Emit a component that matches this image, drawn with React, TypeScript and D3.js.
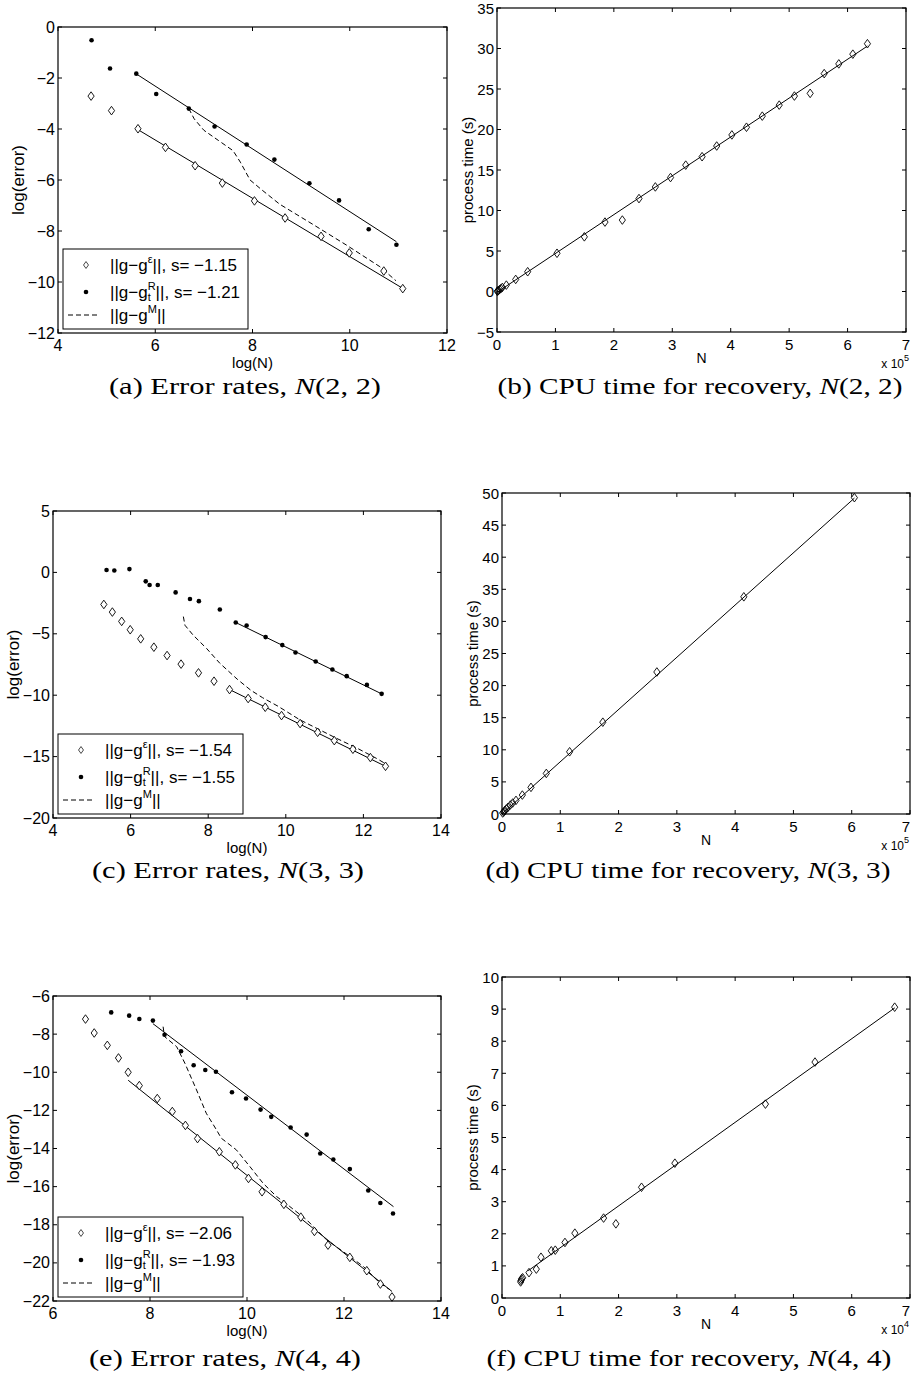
import * as d3 from "d3";

type Pt = [number, number];

// ---------- (a) error rates N(2,2) ----------
const aEps: Pt[] = [[4.68, -2.71], [5.10, -3.28], [5.645, -3.99], [6.21, -4.72], [6.82, -5.44], [7.38, -6.12], [8.04, -6.82], [8.67, -7.49], [9.41, -8.21], [9.99, -8.86], [10.70, -9.57], [11.09, -10.26]];
const aEpsFit: Pt[] = [[5.64, -4.02], [11.1, -10.26]];
const aRt: Pt[] = [[4.69, -0.52], [5.07, -1.63], [5.61, -1.83], [6.02, -2.63], [6.69, -3.20], [7.22, -3.90], [7.88, -4.61], [8.45, -5.20], [9.17, -6.13], [9.78, -6.80], [10.39, -7.93], [10.96, -8.54]];
const aRtFit: Pt[] = [[5.61, -1.84], [10.96, -8.42]];
const aM: Pt[] = [[6.69, -3.20], [6.80, -3.60], [7.00, -4.05], [7.30, -4.45], [7.60, -4.85], [7.75, -5.30], [7.95, -6.00], [8.20, -6.40], [8.56, -6.95], [9.25, -7.75], [9.93, -8.55], [10.62, -9.40], [10.95, -9.95]];
const aSlopes = ["\u22121.15", "\u22121.21"];

// ---------- (b) cpu time N(2,2), N in 1e5 ----------
const bPts: Pt[] = [[0.005, 0.02], [0.012, 0.06], [0.025, 0.12], [0.046, 0.25], [0.068, 0.37], [0.091, 0.50], [0.16, 0.79], [0.32, 1.49], [0.525, 2.44], [1.027, 4.72], [1.495, 6.75], [1.848, 8.57], [2.145, 8.82], [2.43, 11.47], [2.71, 12.91], [2.97, 14.07], [3.23, 15.60], [3.51, 16.64], [3.76, 17.96], [4.02, 19.33], [4.27, 20.28], [4.54, 21.65], [4.83, 23.01], [5.09, 24.13], [5.36, 24.46], [5.60, 26.9], [5.85, 28.1], [6.09, 29.3], [6.34, 30.59]];
const bFit: Pt[] = [[0, -0.1], [6.34, 30.3]];

// ---------- (c) error rates N(3,3) ----------
const cEps: Pt[] = [[5.31, -2.61], [5.53, -3.23], [5.77, -3.99], [5.99, -4.67], [6.26, -5.41], [6.60, -6.09], [6.94, -6.77], [7.30, -7.47], [7.75, -8.18], [8.15, -8.86], [8.55, -9.54], [9.03, -10.27], [9.47, -10.98], [9.89, -11.66], [10.37, -12.31], [10.82, -13.02], [11.25, -13.70], [11.73, -14.40], [12.18, -15.08], [12.57, -15.79]];
const cEpsFit: Pt[] = [[8.55, -9.54], [12.57, -15.79]];
const cRt: Pt[] = [[5.38, 0.19], [5.58, 0.16], [5.97, 0.27], [6.39, -0.73], [6.49, -1.03], [6.70, -1.03], [7.16, -1.63], [7.53, -2.17], [7.76, -2.34], [8.30, -3.02], [8.71, -4.08], [8.99, -4.32], [9.48, -5.27], [9.91, -5.92], [10.25, -6.52], [10.77, -7.26], [11.20, -7.91], [11.57, -8.45], [12.09, -9.16], [12.47, -9.89]];
const cRtFit: Pt[] = [[8.71, -4.08], [12.47, -9.89]];
const cM: Pt[] = [[7.36, -3.6], [7.40, -4.3], [7.61, -5.1], [7.96, -6.2], [8.30, -7.4], [8.75, -8.7], [9.10, -9.6], [9.40, -10.2], [9.80, -10.9], [10.36, -12.0], [10.8, -12.7], [11.3, -13.5], [11.83, -14.3], [12.34, -15.15], [12.56, -15.56]];
const cSlopes = ["\u22121.54", "\u22121.55"];

// ---------- (d) cpu time N(3,3), N in 1e5 ----------
const dPts: Pt[] = [[0.011, 0.16], [0.029, 0.31], [0.051, 0.57], [0.074, 0.78], [0.103, 1.04], [0.143, 1.40], [0.183, 1.71], [0.24, 2.12], [0.349, 2.95], [0.497, 4.15], [0.76, 6.32], [1.16, 9.69], [1.73, 14.30], [2.657, 22.12], [4.149, 33.83], [6.046, 49.27]];
const dFit: Pt[] = [[0, 0], [6.046, 49.2]];

// ---------- (e) error rates N(4,4) ----------
const eEps: Pt[] = [[6.67, -7.21], [6.85, -7.94], [7.12, -8.59], [7.35, -9.25], [7.55, -10.00], [7.78, -10.70], [8.15, -11.38], [8.46, -12.06], [8.73, -12.79], [8.98, -13.48], [9.43, -14.17], [9.76, -14.86], [10.03, -15.57], [10.31, -16.27], [10.76, -16.93], [11.11, -17.60], [11.39, -18.35], [11.67, -19.07], [12.12, -19.71], [12.47, -20.41], [12.75, -21.11], [12.99, -21.79]];
const eEpsFit: Pt[] = [[7.55, -10.42], [12.99, -21.5]];
const eRt: Pt[] = [[7.20, -6.86], [7.57, -7.03], [7.78, -7.21], [8.06, -7.29], [8.30, -8.03], [8.64, -8.90], [8.90, -9.63], [9.14, -9.88], [9.36, -9.97], [9.69, -11.05], [9.98, -11.38], [10.28, -11.96], [10.50, -12.34], [10.90, -12.90], [11.23, -13.27], [11.51, -14.26], [11.78, -14.58], [12.12, -15.08], [12.50, -16.20], [12.75, -16.86], [13.01, -17.41]];
const eRtFit: Pt[] = [[8.06, -7.45], [13.02, -17.05]];
const eM: Pt[] = [[8.27, -7.61], [8.30, -8.13], [8.55, -8.66], [8.72, -9.53], [8.96, -10.93], [9.16, -12.15], [9.37, -13.02], [9.47, -13.46], [9.78, -14.07], [10.06, -14.95], [10.33, -15.82], [10.61, -16.52], [10.88, -17.04], [11.23, -17.74], [11.64, -18.79], [12.12, -19.66], [12.40, -20.19], [12.74, -21.06], [12.95, -21.41]];
const eSlopes = ["\u22122.06", "\u22121.93"];

// ---------- (f) cpu time N(4,4), N in 1e4 ----------
const fPts: Pt[] = [[0.32, 0.50], [0.326, 0.55], [0.337, 0.60], [0.354, 0.63], [0.463, 0.79], [0.589, 0.90], [0.669, 1.27], [0.846, 1.47], [0.914, 1.49], [1.08, 1.73], [1.25, 2.02], [1.743, 2.49], [1.954, 2.31], [2.394, 3.45], [2.966, 4.20], [4.52, 6.04], [5.37, 7.35], [6.737, 9.06]];
const fFit: Pt[] = [[0.45, 0.85], [6.74, 9.04]];

// tick values
const aXTicks = [4, 6, 8, 10, 12];
const aYTicks = [-12, -10, -8, -6, -4, -2, 0];
const cXTicks = [4, 6, 8, 10, 12, 14];
const cYTicks = [-20, -15, -10, -5, 0, 5];
const eXTicks = [6, 8, 10, 12, 14];
const eYTicks = [-22, -20, -18, -16, -14, -12, -10, -8, -6];
const cpuXTicks = [0, 1, 2, 3, 4, 5, 6, 7];
const bYTicks = [-5, 0, 5, 10, 15, 20, 25, 30, 35];
const dYTicks = [0, 5, 10, 15, 20, 25, 30, 35, 40, 45, 50];
const fYTicks = [0, 1, 2, 3, 4, 5, 6, 7, 8, 9, 10];

const SANS = "Liberation Sans, Arial, Helvetica, sans-serif";
const SERIF = "Liberation Serif, Times New Roman, serif";
const W = 911;

type Box = { x: number; y: number; w: number; h: number };

const fmt = (v: number) => (v < 0 ? "\u2212" + Math.abs(v) : String(v));
const diamond = "M0,-4.3L3.1,0L0,4.3L-3.1,0Z";

function Frame(props: {
  box: Box;
  sx: d3.ScaleLinear<number, number>;
  sy: d3.ScaleLinear<number, number>;
  xTicks: number[];
  yTicks: number[];
  fs: number;
}) {
  const { box, sx, sy, xTicks, yTicks, fs } = props;
  const t = 4;
  return (
    <g>
      {xTicks.map((v) => {
        // keep a label that would run past the page edge inside it
        const atEdge = sx(v) + fs * 0.3 > W;
        return (
          <g key={"x" + v}>
            <line x1={sx(v)} x2={sx(v)} y1={box.y + box.h} y2={box.y + box.h - t} stroke="#000" />
            <line x1={sx(v)} x2={sx(v)} y1={box.y} y2={box.y + t} stroke="#000" />
            <text x={atEdge ? W - 1 : sx(v)} y={box.y + box.h + 12} fontSize={fs} textAnchor={atEdge ? "end" : "middle"} dominantBaseline="central" fontFamily={SANS}>
              {fmt(v)}
            </text>
          </g>
        );
      })}
      {yTicks.map((v) => (
        <g key={"y" + v}>
          <line x1={box.x} x2={box.x + t} y1={sy(v)} y2={sy(v)} stroke="#000" />
          <line x1={box.x + box.w} x2={box.x + box.w - t} y1={sy(v)} y2={sy(v)} stroke="#000" />
          <text x={box.x - 3} y={sy(v)} fontSize={fs} textAnchor="end" dominantBaseline="central" fontFamily={SANS}>
            {fmt(v)}
          </text>
        </g>
      ))}
      <rect x={box.x} y={box.y} width={box.w} height={box.h} fill="none" stroke="#000" strokeWidth={1.2} />
    </g>
  );
}

function ErrorPanel(props: {
  box: Box;
  xDomain: [number, number];
  yDomain: [number, number];
  xTicks: number[];
  yTicks: number[];
  eps: Pt[];
  epsFit: Pt[];
  rt: Pt[];
  rtFit: Pt[];
  m: Pt[];
  slopes: string[];
  label: string;
  dims: string;
  capX: number;
  capY: number;
}) {
  const { box } = props;
  const sx = d3.scaleLinear().domain(props.xDomain).range([box.x, box.x + box.w]);
  const sy = d3.scaleLinear().domain(props.yDomain).range([box.y + box.h, box.y]);
  const line = d3.line<Pt>().x((d) => sx(d[0])).y((d) => sy(d[1]));
  const lx = box.x + 5;
  const ly = box.y + box.h - 84;
  return (
    <g>
      <rect x={box.x} y={box.y} width={box.w} height={box.h} fill="#fff" />
      <path d={line(props.epsFit) ?? ""} fill="none" stroke="#000" strokeWidth={1} />
      <path d={line(props.rtFit) ?? ""} fill="none" stroke="#000" strokeWidth={1} />
      <path d={line(props.m) ?? ""} fill="none" stroke="#000" strokeWidth={1} strokeDasharray="5,3" />
      {props.eps.map((d, i) => (
        <path key={"e" + i} d={diamond} transform={`translate(${sx(d[0])},${sy(d[1])})`} fill="#fff" stroke="#000" strokeWidth={0.9} />
      ))}
      {props.rt.map((d, i) => (
        <circle key={"r" + i} cx={sx(d[0])} cy={sy(d[1])} r={2.3} fill="#000" />
      ))}
      <Frame box={box} sx={sx} sy={sy} xTicks={props.xTicks} yTicks={props.yTicks} fs={16} />
      <text x={box.x + box.w / 2} y={box.y + box.h + 29} fontSize={15} textAnchor="middle" dominantBaseline="central" fontFamily={SANS}>
        log(N)
      </text>
      <text transform={`translate(${box.x - 40},${box.y + box.h / 2}) rotate(-90)`} fontSize={17} textAnchor="middle" dominantBaseline="central" fontFamily={SANS}>
        log(error)
      </text>
      <g fontFamily={SANS} fontSize={17}>
        <rect x={lx} y={ly} width={185} height={80} fill="#fff" stroke="#000" strokeWidth={1} />
        <path d={diamond} transform={`translate(${lx + 23},${ly + 16}) scale(0.8)`} fill="#fff" stroke="#000" strokeWidth={0.9} />
        <text x={lx + 47} y={ly + 16} dominantBaseline="central">
          ||g{"\u2212"}g<tspan dy={-6} fontSize={11}>{"\u03b5"}</tspan>
          <tspan dy={6}>||, s= {props.slopes[0]}</tspan>
        </text>
        <circle cx={lx + 23} cy={ly + 43} r={2.3} fill="#000" />
        <text x={lx + 47} y={ly + 43} dominantBaseline="central">
          ||g{"\u2212"}g<tspan dy={-6} fontSize={11}>R</tspan>
          <tspan dx={-7.9} dy={11} fontSize={11}>t</tspan>
          <tspan dx={4.8} dy={-5}>||, s= {props.slopes[1]}</tspan>
        </text>
        <line x1={lx + 5} x2={lx + 35} y1={ly + 66} y2={ly + 66} stroke="#000" strokeWidth={1} strokeDasharray="5,3" />
        <text x={lx + 47} y={ly + 66} dominantBaseline="central">
          ||g{"\u2212"}g<tspan dy={-6} fontSize={11}>M</tspan>
          <tspan dy={6}>||</tspan>
        </text>
      </g>
      <text x={props.capX} y={props.capY} fontSize={24} textAnchor="middle" dominantBaseline="central" fontFamily={SERIF} textLength={272} lengthAdjust="spacingAndGlyphs">
        ({props.label}) Error rates, <tspan fontStyle="italic">N</tspan>({props.dims})
      </text>
    </g>
  );
}

function CpuPanel(props: {
  box: Box;
  yDomain: [number, number];
  yTicks: number[];
  pts: Pt[];
  fit: Pt[];
  exp: string;
  label: string;
  dims: string;
  capX: number;
  capY: number;
}) {
  const { box } = props;
  const sx = d3.scaleLinear().domain([0, 7]).range([box.x, box.x + box.w]);
  const sy = d3.scaleLinear().domain(props.yDomain).range([box.y + box.h, box.y]);
  const line = d3.line<Pt>().x((d) => sx(d[0])).y((d) => sy(d[1]));
  return (
    <g>
      <rect x={box.x} y={box.y} width={box.w} height={box.h} fill="#fff" />
      <path d={line(props.fit) ?? ""} fill="none" stroke="#000" strokeWidth={1} />
      {props.pts.map((d, i) => (
        <path key={i} d={diamond} transform={`translate(${sx(d[0])},${sy(d[1])})`} fill="none" stroke="#000" strokeWidth={0.9} />
      ))}
      <Frame box={box} sx={sx} sy={sy} xTicks={cpuXTicks} yTicks={props.yTicks} fs={15} />
      <text x={box.x + box.w / 2} y={box.y + box.h + 26} fontSize={14} textAnchor="middle" dominantBaseline="central" fontFamily={SANS}>
        N
      </text>
      <text x={W - 2} y={box.y + box.h + 32} fontSize={12} textAnchor="end" dominantBaseline="central" fontFamily={SANS}>
        x 10<tspan dy={-6} fontSize={9}>{props.exp}</tspan>
      </text>
      <text transform={`translate(${box.x - 30},${box.y + box.h / 2}) rotate(-90)`} fontSize={15} textAnchor="middle" dominantBaseline="central" fontFamily={SANS}>
        process time (s)
      </text>
      <text x={props.capX} y={props.capY} fontSize={24} textAnchor="middle" dominantBaseline="central" fontFamily={SERIF} textLength={405} lengthAdjust="spacingAndGlyphs">
        ({props.label}) CPU time for recovery, <tspan fontStyle="italic">N</tspan>({props.dims})
      </text>
    </g>
  );
}

export default function App() {
  return (
    <div style={{ position: "absolute", left: 0, top: 0 }}>
      <svg width={W} height={1380} style={{ display: "block", background: "#fff" }}>
        <ErrorPanel box={{ x: 58, y: 27, w: 389, h: 306 }} xDomain={[4, 12]} yDomain={[-12, 0]} xTicks={aXTicks} yTicks={aYTicks}
          eps={aEps} epsFit={aEpsFit} rt={aRt} rtFit={aRtFit} m={aM} slopes={aSlopes} label="a" dims="2, 2" capX={245} capY={386} />
        <CpuPanel box={{ x: 497, y: 8, w: 409, h: 324 }} yDomain={[-5, 35]} yTicks={bYTicks} pts={bPts} fit={bFit} exp="5"
          label="b" dims="2, 2" capX={700} capY={386} />
        <ErrorPanel box={{ x: 53, y: 511, w: 388, h: 307 }} xDomain={[4, 14]} yDomain={[-20, 5]} xTicks={cXTicks} yTicks={cYTicks}
          eps={cEps} epsFit={cEpsFit} rt={cRt} rtFit={cRtFit} m={cM} slopes={cSlopes} label="c" dims="3, 3" capX={228} capY={870} />
        <CpuPanel box={{ x: 502, y: 493, w: 408, h: 321 }} yDomain={[0, 50]} yTicks={dYTicks} pts={dPts} fit={dFit} exp="5"
          label="d" dims="3, 3" capX={688} capY={870} />
        <ErrorPanel box={{ x: 53, y: 996, w: 388, h: 305 }} xDomain={[6, 14]} yDomain={[-22, -6]} xTicks={eXTicks} yTicks={eYTicks}
          eps={eEps} epsFit={eEpsFit} rt={eRt} rtFit={eRtFit} m={eM} slopes={eSlopes} label="e" dims="4, 4" capX={225} capY={1358} />
        <CpuPanel box={{ x: 502, y: 977, w: 408, h: 321 }} yDomain={[0, 10]} yTicks={fYTicks} pts={fPts} fit={fFit} exp="4"
          label="f" dims="4, 4" capX={689} capY={1358} />
      </svg>
    </div>
  );
}
